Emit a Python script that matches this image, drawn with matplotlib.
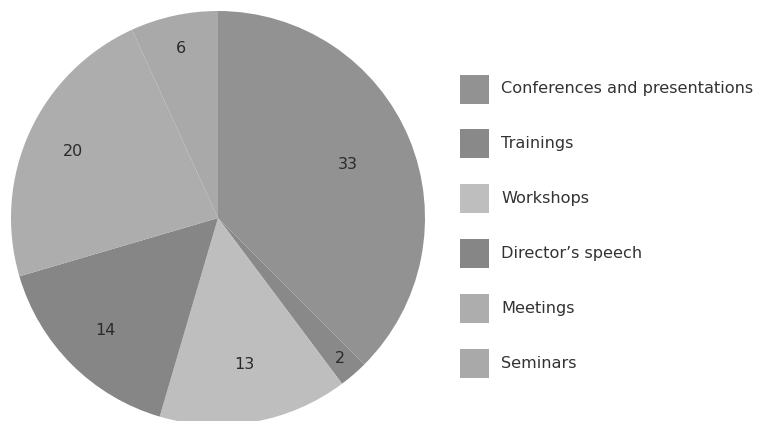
import matplotlib.pyplot as plt
import numpy as np
from matplotlib.patches import Rectangle

categories = ["Conferences and presentations", "Trainings", "Workshops",
              "Director\u2019s speech", "Meetings", "Seminars"]
values = [33, 2, 13, 14, 20, 6]
colors = ["#929292", "#898989", "#bebebe", "#868686", "#adadad", "#a9a9a9"]
# how far from the centre each number sits (fraction of radius)
label_dist = [0.68, 0.90, 0.72, 0.77, 0.77, 0.84]

W, H = 761, 421
fig = plt.figure(figsize=(W / 100, H / 100), dpi=100)

cx, cy, r = 218, 218, 207
ax = fig.add_axes([(cx - r) / W, (H - cy - r) / H, 2 * r / W, 2 * r / H])
wedges, _ = ax.pie(values, colors=colors, startangle=90, counterclock=False,
                   radius=1, wedgeprops=dict(linewidth=0))
for w in wedges:
    w.set_clip_on(False)
ax.set_xlim(-1, 1)
ax.set_ylim(-1, 1)
ax.set_aspect("equal")
ax.axis("off")

for w, v, d in zip(wedges, values, label_dist):
    ang = np.deg2rad((w.theta1 + w.theta2) / 2)
    ax.text(d * np.cos(ang), d * np.sin(ang), str(v), ha="center", va="center",
            fontsize=11.5, color="#2a2a2a")

# legend drawn by hand
x0, size = 460, 29
y_first, step = 89, 54.8
for i, (lab, c) in enumerate(zip(categories, colors)):
    yc = y_first + i * step
    fig.patches.append(Rectangle((x0 / W, (H - yc - size / 2) / H), size / W, size / H,
                                 transform=fig.transFigure, facecolor=c,
                                 edgecolor="none"))
    fig.text(501 / W, (H - yc) / H, lab, ha="left", va="center",
             fontsize=11.6, color="#333333")

fig.savefig("out.png", dpi=100)
